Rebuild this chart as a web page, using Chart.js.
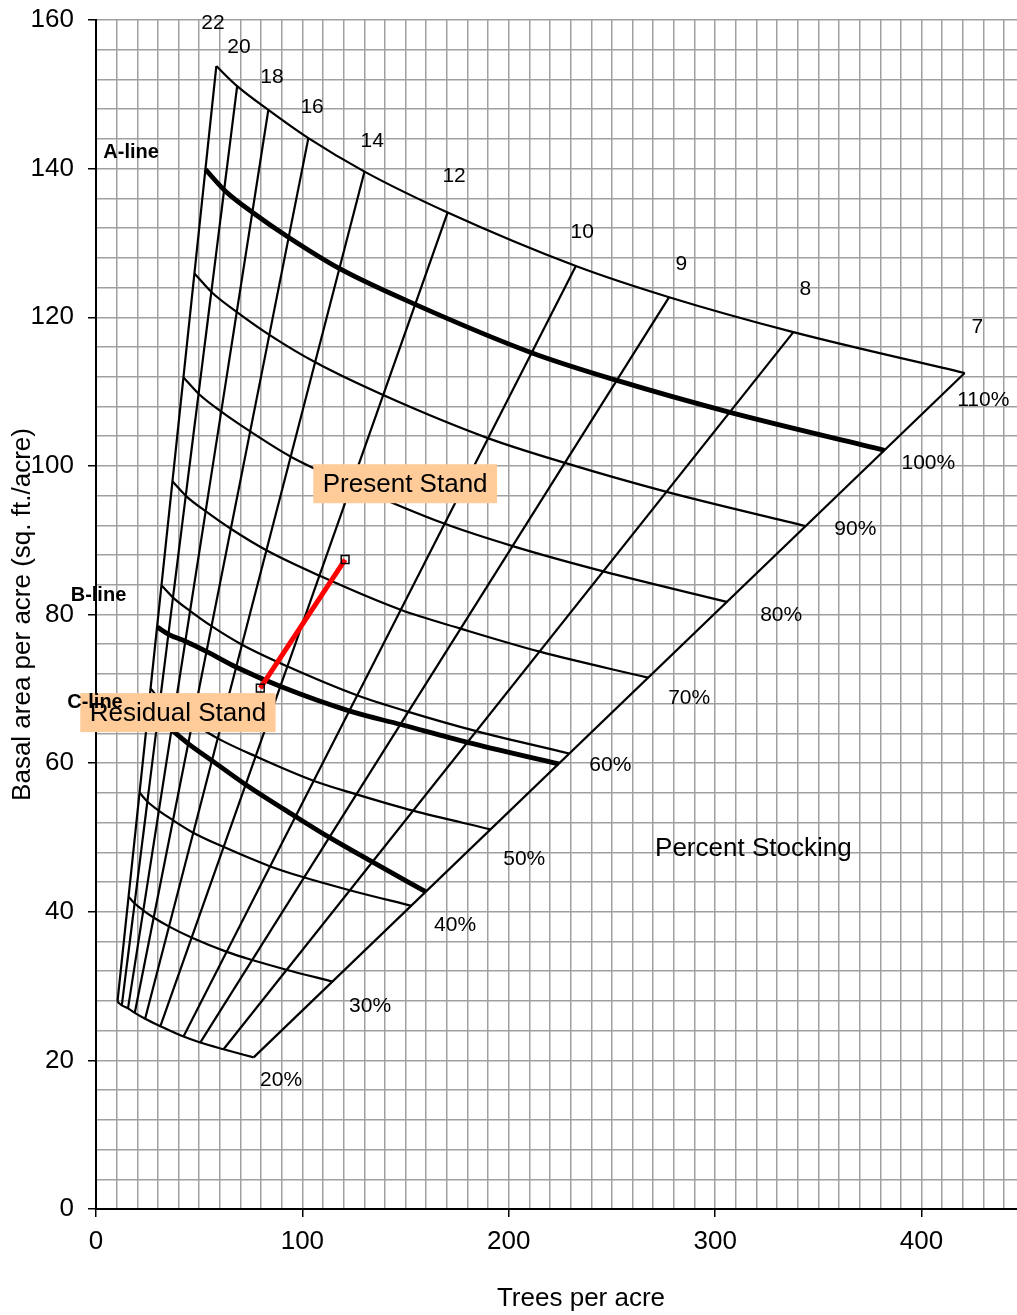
<!DOCTYPE html>
<html>
<head>
<meta charset="utf-8">
<script src="https://cdn.jsdelivr.net/npm/chart.js@4.4.0/dist/chart.umd.min.js"></script>
<style>
  html, body { margin: 0; padding: 0; background: #fff; overflow: hidden; }
  canvas { display: block; }
</style>
</head>
<body>
<canvas id="stockingChart" width="1080" height="1315"></canvas>
<script>
// mean tree diameter (in.) for each diagonal line, largest first
const diameters = [22, 20, 18, 16, 14, 12, 10, 9, 8, 7];

// stocking curves: trees per acre / basal area where each meets a diameter line
const tpa110 = [58.3, 68.4, 83.5, 102.9, 130.1, 170.4, 232.5, 277.7, 337.9, 420.9];
const ba110  = [153.8, 151.1, 147.9, 144.1, 139.6, 134.1, 126.9, 122.7, 118.0, 112.5];
const tpa100 = [53.0, 62.6, 75.9, 93.6, 118.3, 154.9, 211.3, 252.4, 307.2, 382.0];
const ba100  = [139.9, 137.0, 134.1, 130.7, 126.5, 121.7, 115.2, 111.5, 107.2, 102.1];
const tpa90  = [47.7, 56.3, 68.3, 84.2, 106.5, 139.4, 190.2, 227.2, 276.5, 343.8];
const ba90   = [125.9, 123.3, 120.7, 117.6, 113.9, 109.5, 103.7, 100.4, 96.5, 91.9];
const tpa80  = [42.4, 50.1, 60.7, 74.9, 94.6, 123.9, 169.0, 201.9, 245.8, 305.6];
const ba80   = [111.9, 109.6, 107.3, 104.6, 101.2, 97.4, 92.2, 89.2, 85.8, 81.7];
const tpa70  = [37.1, 43.8, 53.1, 65.5, 82.8, 108.4, 147.9, 176.7, 215.0, 267.4];
const ba70   = [97.9, 95.9, 93.9, 91.5, 88.6, 85.2, 80.6, 78.1, 75.0, 71.5];
const tpa60  = [31.8, 37.6, 45.5, 56.2, 71.0, 92.9, 126.8, 151.4, 184.3, 229.2];
const ba60   = [83.9, 82.2, 80.5, 78.4, 75.9, 73.0, 69.1, 66.9, 64.3, 61.3];
const tpa50  = [26.5, 31.3, 38.0, 46.8, 59.2, 77.5, 105.7, 126.2, 153.6, 191.0];
const ba50   = [70.0, 68.5, 67.1, 65.4, 63.3, 60.9, 57.6, 55.8, 53.6, 51.1];
const tpa40  = [21.2, 25.0, 30.4, 37.4, 47.3, 62.0, 84.5, 101.0, 122.9, 152.8];
const ba40   = [56.0, 54.8, 53.6, 52.3, 50.6, 48.7, 46.1, 44.6, 42.9, 40.8];
const tpa30  = [15.9, 18.8, 22.8, 28.1, 35.5, 46.5, 63.4, 75.7, 92.2, 114.6];
const ba30   = [42.0, 41.1, 40.2, 39.2, 38.0, 36.5, 34.6, 33.5, 32.2, 30.6];
const tpa20  = [10.4, 12.5, 15.5, 18.8, 23.8, 31.2, 42.4, 50.5, 61.8, 76.4];
const ba20   = [27.9, 27.4, 27.0, 26.4, 25.6, 24.6, 23.2, 22.4, 21.5, 20.4];

// B-line and C-line
const tpaB = [29.7, 35.4, 43.3, 53.7, 68.1, 89.5, 123.0, 147.7, 180.0, 224.2];
const baB  = [78.3, 77.3, 76.4, 75.0, 72.9, 70.3, 67.0, 65.2, 62.8, 59.9];
const tpaC = [25.7, 30.2, 36.5, 44.8, 56.4, 72.6, 96.8, 113.1, 133.9, 159.7];
const baC  = [67.9, 66.0, 64.5, 62.6, 60.3, 57.1, 52.8, 50.0, 46.7, 42.7];

// present -> residual stand
const standTpa = [79.6, 120.7];
const standBa  = [70.1, 87.4];

const FONT = "'Liberation Sans', Arial, Helvetica, sans-serif";
const pts = (xs, ys) => xs.map((x, i) => ({ x, y: ys[i] }));

function curve(label, xs, ys, width) {
  return {
    label, data: pts(xs, ys),
    showLine: true, borderColor: "#000", borderWidth: width,
    pointRadius: 0, cubicInterpolationMode: "monotone", order: 1,
  };
}

const stocking = [
  ["110%", tpa110, ba110, 2.2], ["100%", tpa100, ba100, 4.8], ["90%", tpa90, ba90, 2.2],
  ["80%", tpa80, ba80, 2.2], ["70%", tpa70, ba70, 2.2], ["60%", tpa60, ba60, 2.2],
  ["50%", tpa50, ba50, 2.2], ["40%", tpa40, ba40, 2.2], ["30%", tpa30, ba30, 2.2],
  ["20%", tpa20, ba20, 2.2],
];

const datasets = stocking.map(s => curve(s[0], s[1], s[2], s[3]));
datasets.push(curve("B-line", tpaB, baB, 4.8));
datasets.push(curve("C-line", tpaC, baC, 4.8));

// diameter lines run from the 20% curve to the 110% curve
diameters.forEach((d, i) => {
  datasets.push({
    label: "D" + d,
    data: [{ x: tpa20[i], y: ba20[i] }, { x: tpa110[i], y: ba110[i] }],
    showLine: true, borderColor: "#000", borderWidth: 2.2, pointRadius: 0, order: 1,
  });
});

datasets.push({
  label: "stand",
  data: pts(standTpa, standBa),
  showLine: true, borderColor: "#ff0000", borderWidth: 5,
  pointStyle: "rect", pointRadius: 5.5, pointBorderColor: "#000",
  pointBorderWidth: 1.5, pointBackgroundColor: "rgba(0,0,0,0)", order: 0,
});

// text placed in data units
const plainLabels = [
  { text: "22", x: 56.7, y: 159.6, size: 21 }, { text: "20", x: 69.3, y: 156.4, size: 21 },
  { text: "18", x: 85.3, y: 152.3, size: 21 }, { text: "16", x: 104.7, y: 148.2, size: 21 },
  { text: "14", x: 133.8, y: 143.7, size: 21 }, { text: "12", x: 173.5, y: 139.0, size: 21 },
  { text: "10", x: 235.6, y: 131.5, size: 21 }, { text: "9", x: 283.6, y: 127.2, size: 21 },
  { text: "8", x: 343.7, y: 123.8, size: 21 }, { text: "7", x: 427.1, y: 118.7, size: 21 },
  { text: "110%", x: 429.9, y: 108.9, size: 21 }, { text: "100%", x: 403.3, y: 100.4, size: 21 },
  { text: "90%", x: 367.9, y: 91.5, size: 21 }, { text: "80%", x: 332.0, y: 79.9, size: 21 },
  { text: "70%", x: 287.4, y: 68.8, size: 21 }, { text: "60%", x: 249.2, y: 59.7, size: 21 },
  { text: "50%", x: 207.5, y: 47.1, size: 21 }, { text: "40%", x: 174.0, y: 38.2, size: 21 },
  { text: "30%", x: 132.8, y: 27.3, size: 21 }, { text: "20%", x: 89.7, y: 17.3, size: 21 },
  { text: "Percent Stocking", x: 318.5, y: 48.5, size: 26 },
  { text: "A-line", x: 17.0, y: 142.2, size: 20, bold: true },
  { text: "B-line", x: 1.2, y: 82.5, size: 20, bold: true },
  { text: "C-line", x: -0.5, y: 68.2, size: 20, bold: true },
];
const boxLabels = [
  { text: "Present Stand", x: 149.8, y: 97.6 },
  { text: "Residual Stand", x: 39.7, y: 66.8 },
];

const labelPlugin = {
  id: "stockingLabels",
  afterDatasetsDraw(chart) {
    const { ctx, scales: { x, y } } = chart;
    ctx.save();
    ctx.textAlign = "center";
    ctx.textBaseline = "middle";
    ctx.font = `26px ${FONT}`;
    boxLabels.forEach(b => {
      const w = ctx.measureText(b.text).width + 19;
      ctx.fillStyle = "#ffcc99";
      ctx.fillRect(x.getPixelForValue(b.x) - w / 2, y.getPixelForValue(b.y) - 19.5, w, 39);
    });
    ctx.fillStyle = "#000";
    plainLabels.forEach(l => {
      ctx.font = `${l.bold ? "bold " : ""}${l.size}px ${FONT}`;
      ctx.fillText(l.text, x.getPixelForValue(l.x), y.getPixelForValue(l.y));
    });
    ctx.font = `26px ${FONT}`;
    boxLabels.forEach(b => {
      ctx.fillText(b.text, x.getPixelForValue(b.x), y.getPixelForValue(b.y) + 1);
    });
    ctx.restore();
  },
};

const tickFont = { size: 26, family: FONT };

new Chart(document.getElementById("stockingChart"), {
  type: "scatter",
  data: { datasets },
  plugins: [labelPlugin],
  options: {
    responsive: false,
    animation: false,
    layout: { padding: { top: 20, right: 14, bottom: 0, left: 0 } },
    plugins: { legend: { display: false }, tooltip: { enabled: false } },
    scales: {
      x: {
        type: "linear", min: 0, max: 470,
        afterFit: s => { s.height = 106; s.paddingLeft = 0; s.paddingRight = 0; },
        ticks: {
          stepSize: 10, maxTicksLimit: 100, autoSkip: false, maxRotation: 0,
          padding: 9, color: "#000", font: tickFont,
          callback: v => (v % 100 === 0 ? v : ""),
        },
        grid: {
          color: "#a0a0a0", lineWidth: 1.5, tickLength: 8, tickWidth: 1.5,
          tickColor: c => (c.tick && c.tick.value % 100 === 0 ? "#000" : "rgba(0,0,0,0)"),
        },
        border: { color: "#000", width: 2 },
        title: {
          display: true, text: "Trees per acre", color: "#000", font: tickFont,
          padding: { top: 0, bottom: 1 },
        },
      },
      y: {
        min: 0, max: 160,
        afterFit: s => { s.width = 96; s.paddingTop = 0; s.paddingBottom = 0; },
        ticks: {
          stepSize: 4, maxTicksLimit: 100, autoSkip: false,
          padding: 14, color: "#000", font: tickFont,
          callback: v => (v % 20 === 0 ? v : ""),
        },
        grid: {
          color: "#a0a0a0", lineWidth: 1.5, tickLength: 8, tickWidth: 1.5,
          tickColor: c => (c.tick && c.tick.value % 20 === 0 ? "#000" : "rgba(0,0,0,0)"),
        },
        border: { color: "#000", width: 2 },
        title: {
          display: true, text: "Basal area per acre (sq. ft./acre)", color: "#000", font: tickFont,
          padding: { top: 7, bottom: 0 },
        },
      },
    },
  },
});
</script>
</body>
</html>
